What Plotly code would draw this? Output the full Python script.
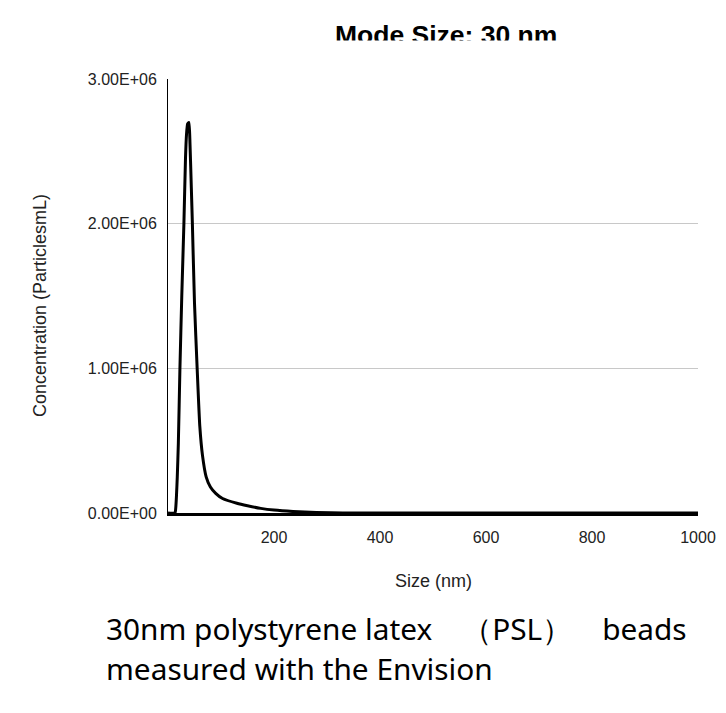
import plotly.graph_objects as go

# size distribution (nm, particles/mL)
size_nm = [0, 13, 14.5, 16, 17.5, 19.5, 22.5, 26, 30, 33, 35, 37, 39.5, 41.5, 44, 46,
           50, 55, 60, 65, 72, 80, 90, 103, 130, 150, 175, 200, 236, 280, 330, 1000]
concentration = [0, 0, 0.03e6, 0.12e6, 0.25e6, 0.48e6, 1.0e6, 1.5e6, 2.0e6, 2.45e6,
                 2.62e6, 2.69e6, 2.70e6, 2.55e6, 2.25e6, 2.0e6, 1.45e6, 1.0e6, 0.6e6,
                 0.4e6, 0.25e6, 0.18e6, 0.136e6, 0.1e6, 0.067e6, 0.05e6,
                 0.032e6, 0.02e6, 0.01e6, 0.003e6, 0, 0]

x_ticks = [200, 400, 600, 800, 1000]
y_ticks = [0, 1e6, 2e6, 3e6]
y_labels = ['0.00E+00', '1.00E+06', '2.00E+06', '3.00E+06']

title_text = '<b>Mode Size: 30 nm</b>'
caption = ['30nm polystyrene latex　（PSL）　beads', 'measured with the Envision']

# page body keeps an 8px margin, so the figure is 16px smaller than the window
W, H = 710, 697
L, R, T, B = 160, 690, 71, 505   # plot box in figure pixels
arial = 'Liberation Sans, Arial'


def px(x):
    return (x - L) / (R - L)


def py(y):
    return (B - y) / (B - T)


fig = go.Figure()
fig.add_trace(go.Scatter(x=size_nm, y=concentration, mode='lines',
                         line=dict(color='black', width=3, shape='spline', smoothing=0.5),
                         showlegend=False))

fig.update_layout(
    width=W, height=H,
    margin=dict(l=L, r=W - R, t=T, b=H - B, autoexpand=False),
    paper_bgcolor='white', plot_bgcolor='white',
    font=dict(family=arial, size=16, color='#222'),
)
fig.update_xaxes(range=[0, 1000], tickvals=x_ticks, showgrid=False, zeroline=False,
                 showline=True, linecolor='black', linewidth=3, ticks='',
                 ticklabelstandoff=8, automargin=False)
fig.update_yaxes(range=[0, 3e6], tickvals=y_ticks, ticktext=y_labels, showgrid=True,
                 gridcolor='#c8c8c8', gridwidth=1, zeroline=False, showline=True,
                 linecolor='black', linewidth=1, ticks='', ticklabelstandoff=7,
                 automargin=False)

# title, with its lower edge cut off by a white strip drawn after it
fig.add_annotation(text=title_text, xref='paper', yref='paper', x=px(438), y=py(26.5),
                   xanchor='center', yanchor='middle', showarrow=False,
                   font=dict(size=26.5, color='black', family=arial))
fig.add_annotation(text=' ', xref='paper', yref='paper', x=px(438), y=py(32),
                   xanchor='center', yanchor='top', showarrow=False,
                   width=420, height=30, bgcolor='white', borderpad=0)

fig.add_annotation(text='Size (nm)', xref='paper', yref='paper', x=px(425), y=py(573),
                   xanchor='center', yanchor='middle', showarrow=False,
                   font=dict(size=18, color='#222'))
fig.add_annotation(text='Concentration (ParticlesmL)', xref='paper', yref='paper',
                   x=px(32), y=py(298), xanchor='center', yanchor='middle',
                   textangle=-90, showarrow=False, font=dict(size=18, color='#222'))

for i, line in enumerate(caption):
    fig.add_annotation(text=line, xref='paper', yref='paper',
                       x=px(96), y=py(598 + 40 * i),
                       xanchor='left', yanchor='top', showarrow=False,
                       font=dict(family='Noto Sans', size=29.8, color='black'))

fig.write_html('out.html')
